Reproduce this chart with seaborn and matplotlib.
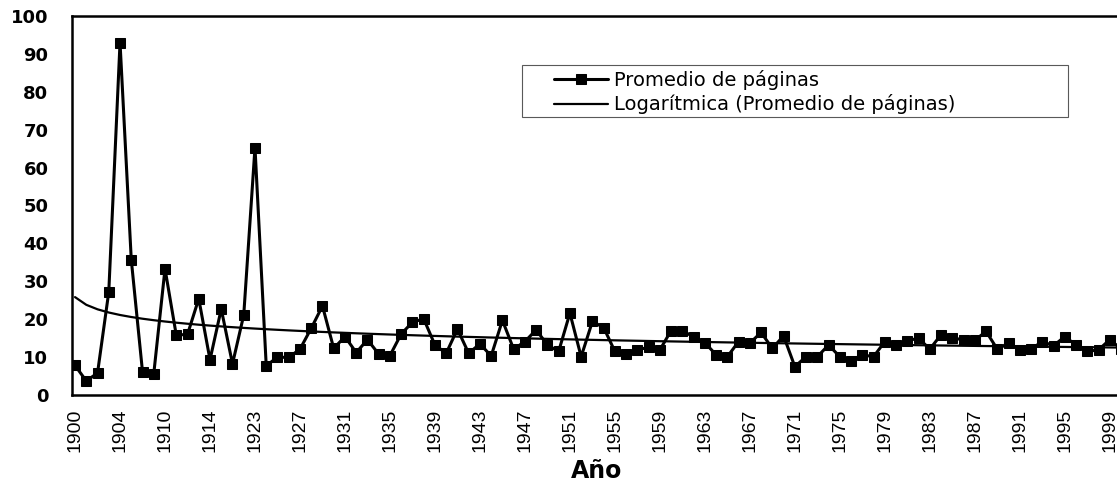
import numpy as np
import pandas as pd
import matplotlib
matplotlib.use("Agg")
import matplotlib.pyplot as plt
from matplotlib.patches import Rectangle
import seaborn as sns

# Years with data (a few early years have no record)
years = [1900, 1901, 1902, 1903, 1904, 1905, 1906, 1908, 1910, 1911,
         1912, 1913, 1914, 1916, 1918, 1920, 1923, 1924, 1925, 1926] + list(range(1927, 2001))

# Average number of pages per year
pages = [7.8, 3.7, 5.8, 27.2, 93.0, 35.7, 6.1, 5.6, 33.3, 15.8,
         16.0, 25.4, 9.3, 22.7, 8.2, 21.1, 65.3, 7.7, 10.0, 9.9,
         12.1, 17.6, 23.5, 12.3, 15.4, 11.2, 14.6, 10.8, 10.4, 16.1,
         19.2, 20.1, 13.2, 11.0, 17.4, 11.0, 13.5, 10.3, 19.7, 12.1,
         14.1, 17.2, 13.2, 11.5, 21.6, 10.1, 19.4, 17.8, 11.5, 10.8,
         11.9, 12.6, 11.9, 17.0, 17.0, 15.3, 13.8, 10.6, 10.1, 14.1,
         13.7, 16.5, 12.3, 15.6, 7.5, 10.1, 10.1, 13.2, 10.1, 9.1,
         10.6, 10.1, 14.1, 13.2, 14.3, 15.0, 12.1, 15.9, 15.0, 14.6,
         14.4, 16.8, 12.1, 13.7, 11.9, 12.1, 14.1, 13.0, 15.4, 13.2,
         11.5, 11.9, 14.6, 12.2]

series_label = "Promedio de páginas"
trend_label = "Logarítmica (Promedio de páginas)"
x_title = "Año"
y_ticks = list(range(0, 101, 10))

df = pd.DataFrame({"pos": np.arange(len(years)), "year": years, "pages": pages})

# Logarithmic trend fitted on the category number (1..n)
k = df["pos"].to_numpy() + 1
a, b = np.polyfit(np.log(k), df["pages"].to_numpy(), 1)
df["trend"] = a * np.log(k) + b

sns.set_style("white")
plt.rcParams["font.family"] = ["DejaVu Sans"]
plt.rcParams["text.color"] = "black"
plt.rcParams["axes.labelcolor"] = "black"
plt.rcParams["xtick.color"] = "black"
plt.rcParams["ytick.color"] = "black"

fig = plt.figure(figsize=(11.17, 4.82), dpi=100)
ax = fig.add_axes([72 / 1117, 87 / 482, 1049 / 1117, 379 / 482])

sns.lineplot(data=df, x="pos", y="pages", ax=ax, color="black", linewidth=2.2,
             marker="s", markersize=6.5, markeredgecolor="black",
             markerfacecolor="black", label=series_label, legend=False)
sns.lineplot(data=df, x="pos", y="trend", ax=ax, color="black", linewidth=1.6,
             label=trend_label, legend=False)

ax.set_xlim(-0.27, len(years) - 1)
ax.set_ylim(0, 100)
ax.set_yticks(y_ticks)
ax.set_yticklabels([str(v) for v in y_ticks], fontsize=13, fontweight="bold")

tick_pos = list(range(0, len(years) - 1, 4))
ax.set_xticks(tick_pos)
ax.set_xticklabels([str(years[i]) for i in tick_pos], rotation=90,
                   fontsize=14, family="Liberation Sans")
ax.tick_params(axis="y", length=0, pad=17)
ax.tick_params(axis="x", length=0, pad=10)

ax.set_ylabel("")
ax.set_xlabel(x_title, fontsize=17, fontweight="bold")
ax.xaxis.set_label_coords(0.5, -0.17)

for side in ["left", "bottom", "top"]:
    ax.spines[side].set_visible(True)
    ax.spines[side].set_color("black")
    ax.spines[side].set_linewidth(1.8)
ax.spines["right"].set_visible(False)

# Legend with its own thin box
handles, labels = ax.get_legend_handles_labels()
fig.legend(handles, labels, loc="upper left",
           bbox_to_anchor=(540 / 1117, 1 - 56 / 482),
           frameon=False, fontsize=14, handlelength=2.8,
           handletextpad=0.3, labelspacing=0.25, borderpad=0.2)
fig.add_artist(Rectangle((522 / 1117, 1 - 117 / 482), 546 / 1117, 52 / 482,
                         transform=fig.transFigure, fill=False,
                         edgecolor="0.35", linewidth=0.8))

fig.savefig("out.png", dpi=100)
